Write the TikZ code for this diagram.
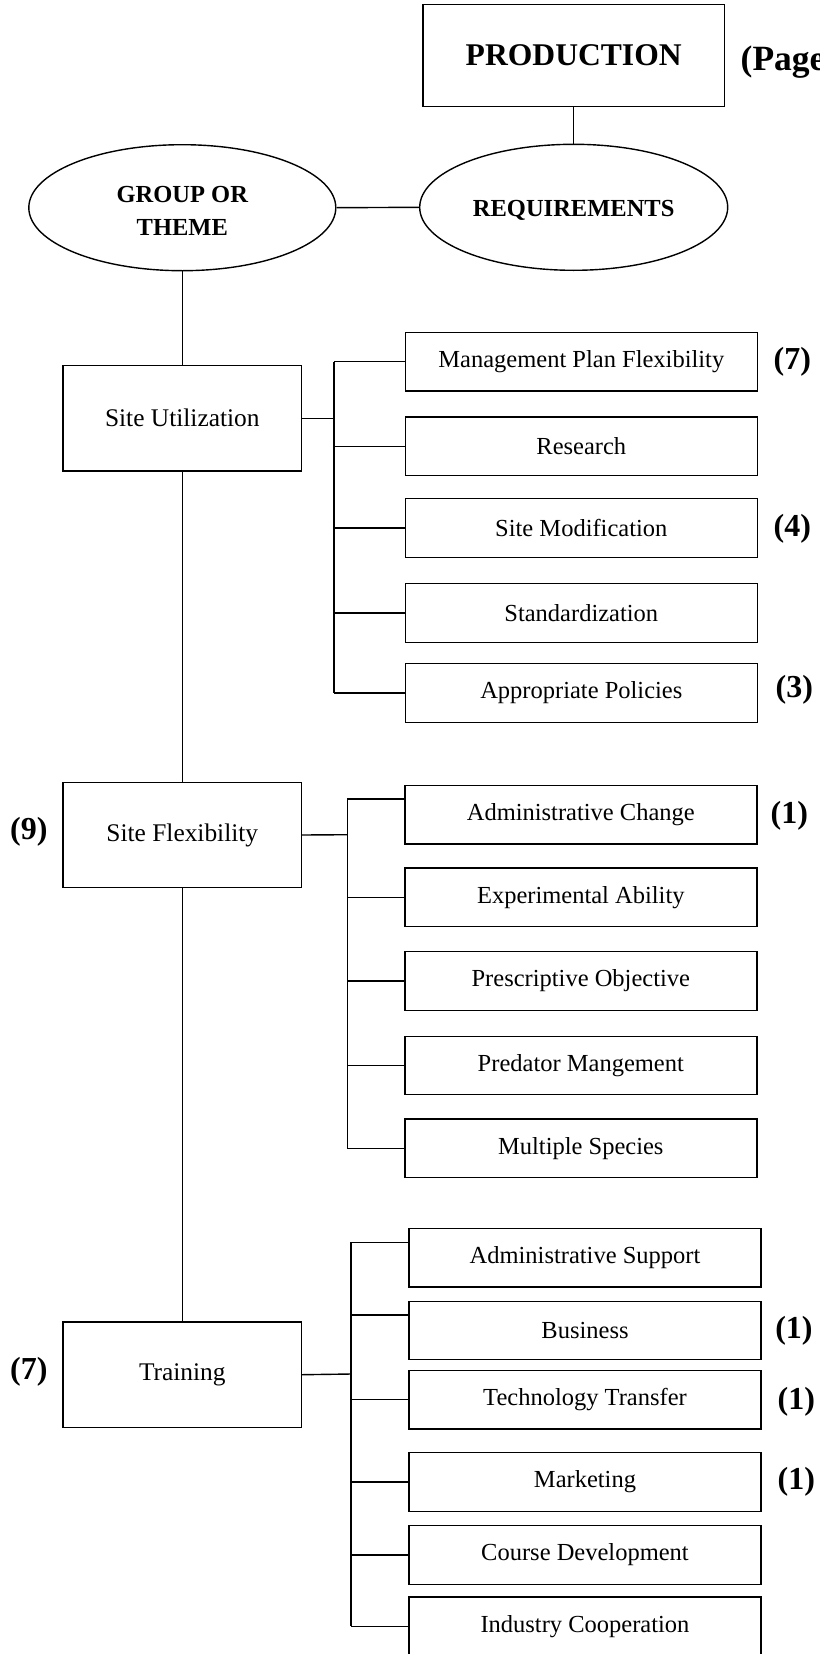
\documentclass[tikz,border=0pt]{standalone}
\usepackage{fontspec}
\setmainfont{Liberation Serif}
\usetikzlibrary{shapes.geometric}
\begin{document}
\begin{tikzpicture}[x=1pt,y=-1pt,line width=1.4pt,
  sub/.style={draw,rectangle,minimum width=352pt,minimum height=58.5pt,inner sep=0pt,font=\fontsize{24.5}{28}\selectfont},
  mainbox/.style={draw,rectangle,minimum width=238.3pt,minimum height=105.5pt,inner sep=0pt,font=\fontsize{25.4}{30}\selectfont},
  oval/.style={draw,ellipse,minimum width=307pt,minimum height=126pt,inner sep=0pt,align=center,font=\fontsize{24.5}{32.7}\selectfont\bfseries},
  count/.style={inner sep=0pt,anchor=west,font=\fontsize{32}{36}\selectfont\bfseries}]
\useasboundingbox (0,0) rectangle (819,1654);

% top
\node[draw,rectangle,minimum width=301.7pt,minimum height=102.4pt,inner sep=0pt,font=\fontsize{31.6}{36}\selectfont\bfseries] (prod) at (573.7,55.5) {PRODUCTION};
\node[inner sep=0pt,anchor=west,font=\fontsize{35.5}{40}\selectfont\bfseries] (page) at (740,62) {(Page};
\node[oval,minimum width=308pt] (req) at (573.7,207.3) {\raisebox{-3pt}[\height][\depth]{REQUIREMENTS}};
\node[oval] (got) at (182.3,207.7) {\rule{0pt}{23pt}GROUP OR\\THEME};
\draw (prod.south) -- (req.north);
\draw (got.east) -- (req.west);

% main column
\node[mainbox] (su) at (182.3,418.3) {Site Utilization};
\node[mainbox] (sf) at (182.3,835) {Site Flexibility};
\node[mainbox] (tr) at (182.3,1374.7) {Training};
\draw (got.south) -- (su.north);
\draw (su.south) -- (sf.north);
\draw (sf.south) -- (tr.north);

% group 1
\node[sub] (mpf) at (581.3,361.7) {Management Plan Flexibility};
\node[sub] (res) at (581.3,446.2) {Research};
\node[sub] (mod) at (581.3,528) {Site Modification};
\node[sub] (std) at (581.3,613) {Standardization};
\node[sub] (app) at (581.3,693) {Appropriate Policies};
\coordinate (b1) at (334,418.3);
\draw (su.east) -- (b1);
\draw (b1 |- mpf.west) -- (b1 |- app.west);
\foreach \n in {mpf,res,mod,std,app} \draw (b1 |- \n.west) -- (\n.west);
\node[count] (c7a) at (773,361.7) {(7)};
\node[count] (c4) at (773,528.3) {(4)};
\node[count] (c3) at (775,690) {(3)};

% group 2
\node[sub] (ac) at (580.8,814.7) {Administrative Change};
\node[sub] (ea) at (580.8,897.3) {Experimental Ability};
\node[sub] (po) at (580.8,981) {Prescriptive Objective};
\node[sub] (pm) at (580.8,1065.5) {Predator Mangement};
\node[sub] (ms) at (580.8,1148.2) {Multiple Species};
\coordinate (b2) at (347.3,834.7);
\coordinate (t2) at (347.3,799);
\draw (sf.east) -- (b2);
\draw (t2) -- (b2 |- ms.west);
\draw (t2) -- (t2 -| ac.west);
\foreach \n in {ea,po,pm,ms} \draw (b2 |- \n.west) -- (\n.west);
\node[count] (c1a) at (770,816) {(1)};
\node[count] (c9) at (9.4,831.7) {(9)};

% group 3
\node[sub] (as) at (585,1257.7) {Administrative Support};
\node[sub] (bu) at (585,1330.5) {Business};
\node[sub] (tt) at (585,1399.7) {Technology Transfer};
\node[sub] (mk) at (585,1482) {Marketing};
\node[sub] (cd) at (585,1555) {Course Development};
\node[sub] (ic) at (585,1626.3) {Industry Cooperation};
\coordinate (b3) at (351,1374);
\coordinate (t3) at (351,1242.3);
\coordinate (u3) at (351,1315);
\draw (tr.east) -- (b3);
\draw (t3) -- (b3 |- ic.west);
\draw (t3) -- (t3 -| as.west);
\draw (u3) -- (u3 -| bu.west);
\foreach \n in {tt,mk,cd,ic} \draw (b3 |- \n.west) -- (\n.west);
\node[count] (c1b) at (774.6,1330.7) {(1)};
\node[count] (c1c) at (777,1401.7) {(1)};
\node[count] (c1d) at (777,1482) {(1)};
\node[count] (c7b) at (9.4,1371.7) {(7)};
\end{tikzpicture}
\end{document}
